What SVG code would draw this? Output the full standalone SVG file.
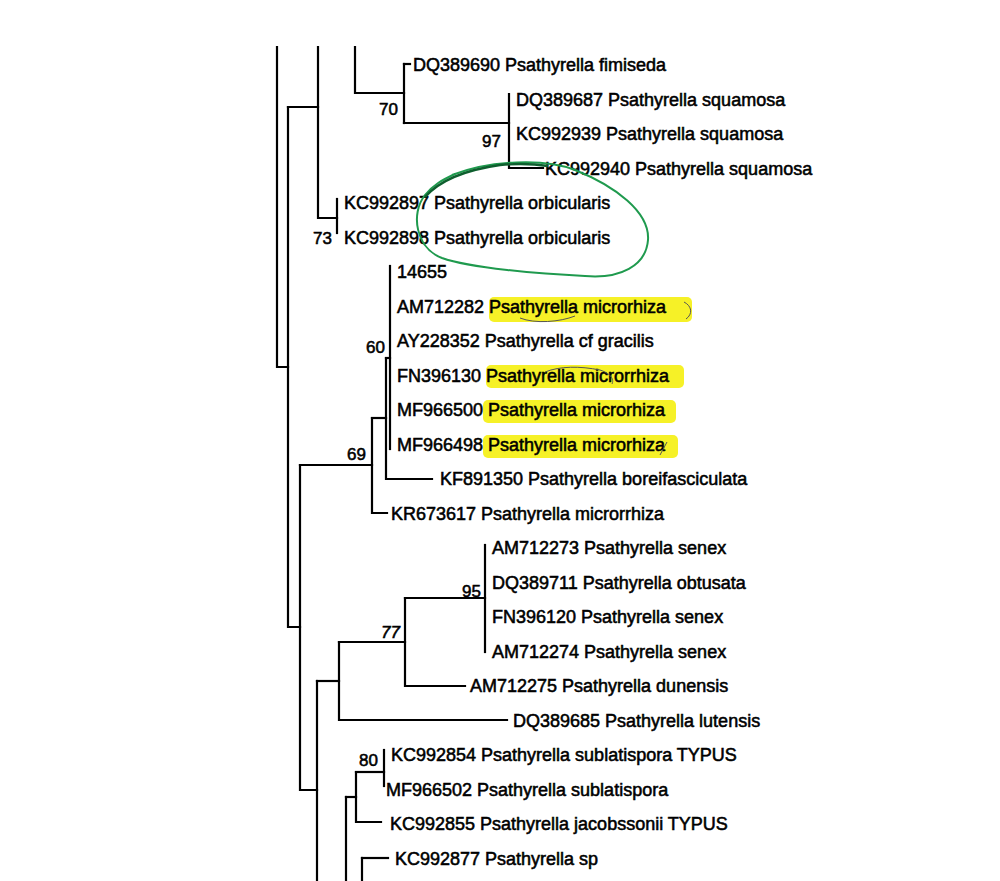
<svg xmlns="http://www.w3.org/2000/svg" width="1000" height="881" viewBox="0 0 1000 881">
<defs>
<style>
.br{fill:none;stroke:#000;stroke-width:2.2;stroke-linecap:square}
.lf{font-family:"Liberation Sans",Arial,sans-serif;font-size:18px;fill:#000;stroke:#000;stroke-width:0.55}
.bs{font-family:"Liberation Sans",Arial,sans-serif;font-size:17px;fill:#000;stroke:#000;stroke-width:0.55;text-anchor:end}
.hl{fill:#f6f127}
.pen{fill:none;stroke:#555;stroke-width:1}
</style>
</defs>
<rect width="1000" height="881" fill="#ffffff"/>
<g id="highlights">
<rect class="hl" x="489" y="297" width="203" height="25" rx="5"/>
<rect class="hl" x="486" y="365" width="198" height="23" rx="5"/>
<rect class="hl" x="483" y="400" width="193" height="23" rx="5"/>
<rect class="hl" x="483" y="435" width="195" height="23" rx="5"/>
</g>
<g id="connectors">
<path class="br" d="M277,47 V367 H288"/>
<path class="br" d="M318,47 V218 H337"/>
<path class="br" d="M337,199 V233"/>
<path class="br" d="M355,47 V93 H404"/>
<path class="br" d="M404,64 V123"/>
<path class="br" d="M404,64 H410"/>
<path class="br" d="M404,123 H509"/>
<path class="br" d="M509,94 V168 H543"/>
<path class="br" d="M288,107 H318"/>
<path class="br" d="M288,107 V627 H300"/>
<path class="br" d="M300,465 V790 H317"/>
<path class="br" d="M300,465 H372"/>
<path class="br" d="M372,418 V513 H387"/>
<path class="br" d="M372,418 H386"/>
<path class="br" d="M386,358 V479 H432"/>
<path class="br" d="M386,358 H390"/>
<path class="br" d="M390,266 V449"/>
<path class="br" d="M317,681 V881"/>
<path class="br" d="M317,681 H339"/>
<path class="br" d="M339,642 V720 H507"/>
<path class="br" d="M339,642 H405"/>
<path class="br" d="M405,598 V686 H465"/>
<path class="br" d="M405,598 H485"/>
<path class="br" d="M485,545 V652"/>
<path class="br" d="M346,797 V881"/>
<path class="br" d="M346,797 H356"/>
<path class="br" d="M356,772 V822 H381"/>
<path class="br" d="M356,772 H384"/>
<path class="br" d="M384,750 V786"/>
<path class="br" d="M362,858 V881"/>
<path class="br" d="M362,858 H388"/>
</g>
<g id="support">
<text class="bs" x="398" y="115">70</text>
<text class="bs" x="501" y="147">97</text>
<text class="bs" x="332" y="244">73</text>
<text class="bs" x="385" y="353">60</text>
<text class="bs" x="366" y="460">69</text>
<text class="bs" x="481" y="597">95</text>
<text class="bs" x="400" y="638" font-style="italic">77</text>
<text class="bs" x="378" y="766">80</text>
</g>
<g id="n-DQ389690"><text class="lf" x="413" y="71">DQ389690 Psathyrella fimiseda</text></g>
<g id="n-DQ389687"><text class="lf" x="516" y="106">DQ389687 Psathyrella squamosa</text></g>
<g id="n-KC992939"><text class="lf" x="516" y="140">KC992939 Psathyrella squamosa</text></g>
<g id="n-KC992940"><text class="lf" x="545" y="175">KC992940 Psathyrella squamosa</text></g>
<g id="n-KC992897"><text class="lf" x="344" y="209">KC992897 Psathyrella orbicularis</text></g>
<g id="n-KC992898"><text class="lf" x="344" y="244">KC992898 Psathyrella orbicularis</text></g>
<g id="n-14655"><text class="lf" x="397" y="278">14655</text></g>
<g id="n-AM712282"><text class="lf" x="397" y="313">AM712282 Psathyrella microrhiza</text></g>
<g id="n-AY228352"><text class="lf" x="397" y="347">AY228352 Psathyrella cf gracilis</text></g>
<g id="n-FN396130"><text class="lf" x="397" y="382">FN396130 Psathyrella microrrhiza</text></g>
<g id="n-MF966500"><text class="lf" x="397" y="416">MF966500 Psathyrella microrhiza</text></g>
<g id="n-MF966498"><text class="lf" x="397" y="451">MF966498 Psathyrella microrhiza</text></g>
<g id="n-KF891350"><text class="lf" x="440" y="485">KF891350 Psathyrella boreifasciculata</text></g>
<g id="n-KR673617"><text class="lf" x="391" y="520">KR673617 Psathyrella microrrhiza</text></g>
<g id="n-AM712273"><text class="lf" x="492" y="554">AM712273 Psathyrella senex</text></g>
<g id="n-DQ389711"><text class="lf" x="492" y="589">DQ389711 Psathyrella obtusata</text></g>
<g id="n-FN396120"><text class="lf" x="492" y="623">FN396120 Psathyrella senex</text></g>
<g id="n-AM712274"><text class="lf" x="492" y="658">AM712274 Psathyrella senex</text></g>
<g id="n-AM712275"><text class="lf" x="470" y="692">AM712275 Psathyrella dunensis</text></g>
<g id="n-DQ389685"><text class="lf" x="513" y="727">DQ389685 Psathyrella lutensis</text></g>
<g id="n-KC992854"><text class="lf" x="391" y="761">KC992854 Psathyrella sublatispora TYPUS</text></g>
<g id="n-MF966502"><text class="lf" x="386" y="796">MF966502 Psathyrella sublatispora</text></g>
<g id="n-KC992855"><text class="lf" x="390" y="830">KC992855 Psathyrella jacobssonii TYPUS</text></g>
<g id="n-KC992877"><text class="lf" x="395" y="865">KC992877 Psathyrella sp</text></g>
<g id="annotations">
<path d="M452,175 C490,160 545,158 575,170 C615,186 650,212 648,240 C646,266 620,279 585,276 C540,274 470,268 442,258 C416,248 410,214 425,195 C433,185 442,180 455,174" fill="none" stroke="#1f9a4e" stroke-width="2"/>
<path d="M425,197 C440,180 465,170 500,165 C520,163 535,164 548,166" fill="none" stroke="#0e5f2e" stroke-width="2.4"/>
<path class="pen" d="M684,302 C692,306 693,314 686,319"/>
<path class="pen" d="M520,318 C535,324 560,322 575,316"/>
<path class="pen" d="M545,372 C560,366 580,366 600,370 C612,374 614,380 612,384"/>
<path class="pen" d="M667,442 L660,455"/>
</g>
</svg>
